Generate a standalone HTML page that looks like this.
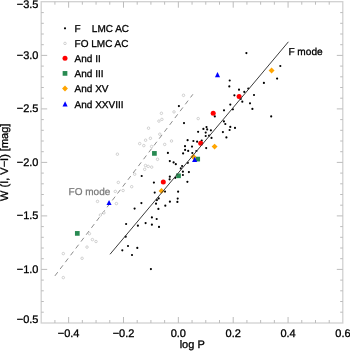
<!DOCTYPE html>
<html><head><meta charset="utf-8"><title>W(I,V-I) vs log P</title>
<style>html,body{margin:0;padding:0;background:#fff}body{width:350px;height:351px;overflow:hidden}</style></head>
<body>
<svg width="350" height="351" viewBox="0 0 350 351" style="display:block">
<rect width="350" height="351" fill="#fff"/>
<g stroke="#bcbcbc" stroke-width="1" fill="none">
<rect x="41.2" y="1.7" width="301.60" height="321.30" stroke="#cfcfcf" stroke-width="1.25"/>
<path d="M54.91 323.0v-3M54.91 1.7v3"/>
<path d="M68.63 323.0v-6M68.63 1.7v6"/>
<path d="M82.34 323.0v-3M82.34 1.7v3"/>
<path d="M96.06 323.0v-3M96.06 1.7v3"/>
<path d="M109.77 323.0v-3M109.77 1.7v3"/>
<path d="M123.49 323.0v-6M123.49 1.7v6"/>
<path d="M137.20 323.0v-3M137.20 1.7v3"/>
<path d="M150.92 323.0v-3M150.92 1.7v3"/>
<path d="M164.63 323.0v-3M164.63 1.7v3"/>
<path d="M178.35 323.0v-6M178.35 1.7v6"/>
<path d="M192.06 323.0v-3M192.06 1.7v3"/>
<path d="M205.78 323.0v-3M205.78 1.7v3"/>
<path d="M219.50 323.0v-3M219.50 1.7v3"/>
<path d="M233.21 323.0v-6M233.21 1.7v6"/>
<path d="M246.93 323.0v-3M246.93 1.7v3"/>
<path d="M260.64 323.0v-3M260.64 1.7v3"/>
<path d="M274.36 323.0v-3M274.36 1.7v3"/>
<path d="M288.07 323.0v-6M288.07 1.7v6"/>
<path d="M301.78 323.0v-3M301.78 1.7v3"/>
<path d="M315.50 323.0v-3M315.50 1.7v3"/>
<path d="M329.22 323.0v-3M329.22 1.7v3"/>
<path d="M41.2 12.60h2.6M342.8 12.60h-2.6"/>
<path d="M41.2 23.30h2.6M342.8 23.30h-2.6"/>
<path d="M41.2 34.00h2.6M342.8 34.00h-2.6"/>
<path d="M41.2 44.70h2.6M342.8 44.70h-2.6"/>
<path d="M41.2 55.40h6M342.8 55.40h-6"/>
<path d="M41.2 66.10h2.6M342.8 66.10h-2.6"/>
<path d="M41.2 76.80h2.6M342.8 76.80h-2.6"/>
<path d="M41.2 87.50h2.6M342.8 87.50h-2.6"/>
<path d="M41.2 98.20h2.6M342.8 98.20h-2.6"/>
<path d="M41.2 108.90h6M342.8 108.90h-6"/>
<path d="M41.2 119.60h2.6M342.8 119.60h-2.6"/>
<path d="M41.2 130.30h2.6M342.8 130.30h-2.6"/>
<path d="M41.2 141.00h2.6M342.8 141.00h-2.6"/>
<path d="M41.2 151.70h2.6M342.8 151.70h-2.6"/>
<path d="M41.2 162.40h6M342.8 162.40h-6"/>
<path d="M41.2 173.10h2.6M342.8 173.10h-2.6"/>
<path d="M41.2 183.80h2.6M342.8 183.80h-2.6"/>
<path d="M41.2 194.50h2.6M342.8 194.50h-2.6"/>
<path d="M41.2 205.20h2.6M342.8 205.20h-2.6"/>
<path d="M41.2 215.90h6M342.8 215.90h-6"/>
<path d="M41.2 226.60h2.6M342.8 226.60h-2.6"/>
<path d="M41.2 237.30h2.6M342.8 237.30h-2.6"/>
<path d="M41.2 248.00h2.6M342.8 248.00h-2.6"/>
<path d="M41.2 258.70h2.6M342.8 258.70h-2.6"/>
<path d="M41.2 269.40h6M342.8 269.40h-6"/>
<path d="M41.2 280.10h2.6M342.8 280.10h-2.6"/>
<path d="M41.2 290.80h2.6M342.8 290.80h-2.6"/>
<path d="M41.2 301.50h2.6M342.8 301.50h-2.6"/>
<path d="M41.2 312.20h2.6M342.8 312.20h-2.6"/>
</g>
<g font-family="'Liberation Sans', Arial, Helvetica, sans-serif" font-size="11" fill="#000" stroke="#000" stroke-width="0.3" text-rendering="geometricPrecision">
<text x="68.63" y="336.9" text-anchor="middle">−0.4</text>
<text x="123.49" y="336.9" text-anchor="middle">−0.2</text>
<text x="178.35" y="336.9" text-anchor="middle">0.0</text>
<text x="233.21" y="336.9" text-anchor="middle">0.2</text>
<text x="288.07" y="336.9" text-anchor="middle">0.4</text>
<text x="342.93" y="336.9" text-anchor="middle">0.6</text>
<text x="38.45" y="7.80" text-anchor="end">−3.5</text>
<text x="38.45" y="58.80" text-anchor="end">−3.0</text>
<text x="38.45" y="112.30" text-anchor="end">−2.5</text>
<text x="38.45" y="165.80" text-anchor="end">−2.0</text>
<text x="38.45" y="219.30" text-anchor="end">−1.5</text>
<text x="38.45" y="272.80" text-anchor="end">−1.0</text>
<text x="38.45" y="322.90" text-anchor="end">−0.5</text>
<text x="192.2" y="348.3" text-anchor="middle">log P</text>
<text transform="translate(8,162.3) rotate(-90)" text-anchor="middle">W (I, V−I) [mag]</text>
</g>
<path d="M54.9 275.9L192.9 94.3" stroke="#8c8c8c" stroke-width="1.0" stroke-dasharray="4.7 3.92" fill="none"/>
<g fill="#fff" stroke="#b2b2b2" stroke-width="0.58">
<circle cx="63.3" cy="253.6" r="1.25"/>
<circle cx="63.3" cy="277.6" r="1.25"/>
<circle cx="82.1" cy="258.3" r="1.25"/>
<circle cx="87.0" cy="247.1" r="1.25"/>
<circle cx="89.4" cy="233.7" r="1.25"/>
<circle cx="92.4" cy="239.6" r="1.25"/>
<circle cx="96.0" cy="241.5" r="1.25"/>
<circle cx="97.5" cy="201.4" r="1.25"/>
<circle cx="103.9" cy="212.9" r="1.25"/>
<circle cx="100.4" cy="215.0" r="1.25"/>
<circle cx="118.3" cy="182.4" r="1.25"/>
<circle cx="115.3" cy="191.4" r="1.25"/>
<circle cx="123.1" cy="190.5" r="1.25"/>
<circle cx="131.7" cy="186.7" r="1.25"/>
<circle cx="134.7" cy="174.2" r="1.25"/>
<circle cx="116.4" cy="203.6" r="1.25"/>
<circle cx="117.4" cy="154.2" r="1.25"/>
<circle cx="148.5" cy="128.2" r="1.25"/>
<circle cx="158.9" cy="121.1" r="1.25"/>
<circle cx="161.9" cy="119.4" r="1.25"/>
<circle cx="159.8" cy="134.2" r="1.25"/>
<circle cx="150.4" cy="138.3" r="1.25"/>
<circle cx="145.6" cy="140.2" r="1.25"/>
<circle cx="139.7" cy="143.6" r="1.25"/>
<circle cx="143.8" cy="145.6" r="1.25"/>
<circle cx="151.6" cy="146.5" r="1.25"/>
<circle cx="164.7" cy="144.4" r="1.25"/>
<circle cx="171.5" cy="141.0" r="1.25"/>
<circle cx="157.5" cy="159.3" r="1.25"/>
<circle cx="145.5" cy="165.5" r="1.25"/>
<circle cx="148.2" cy="166.4" r="1.25"/>
<circle cx="151.7" cy="167.1" r="1.25"/>
<circle cx="144.7" cy="169.3" r="1.25"/>
<circle cx="183.5" cy="95.3" r="1.25"/>
<circle cx="174.0" cy="111.9" r="1.25"/>
<circle cx="161.4" cy="113.3" r="1.25"/>
<circle cx="198.2" cy="118.6" r="1.25"/>
</g>
<g fill="#000">
<circle cx="141.7" cy="176.0" r="1.08"/>
<circle cx="141.4" cy="203.1" r="1.08"/>
<circle cx="134.6" cy="208.6" r="1.08"/>
<circle cx="126.1" cy="224.0" r="1.08"/>
<circle cx="137.9" cy="225.7" r="1.08"/>
<circle cx="145.6" cy="223.1" r="1.08"/>
<circle cx="125.7" cy="236.7" r="1.08"/>
<circle cx="128.0" cy="246.0" r="1.08"/>
<circle cx="122.3" cy="250.3" r="1.08"/>
<circle cx="137.3" cy="247.9" r="1.08"/>
<circle cx="132.0" cy="255.0" r="1.08"/>
<circle cx="150.9" cy="269.1" r="1.08"/>
<circle cx="154.7" cy="192.6" r="1.08"/>
<circle cx="165.0" cy="191.6" r="1.08"/>
<circle cx="178.1" cy="191.7" r="1.08"/>
<circle cx="158.7" cy="198.4" r="1.08"/>
<circle cx="156.9" cy="200.1" r="1.08"/>
<circle cx="177.7" cy="198.6" r="1.08"/>
<circle cx="156.0" cy="203.7" r="1.08"/>
<circle cx="169.9" cy="201.7" r="1.08"/>
<circle cx="177.4" cy="201.9" r="1.08"/>
<circle cx="165.3" cy="205.7" r="1.08"/>
<circle cx="158.4" cy="208.9" r="1.08"/>
<circle cx="151.9" cy="217.4" r="1.08"/>
<circle cx="156.7" cy="219.0" r="1.08"/>
<circle cx="151.9" cy="224.7" r="1.08"/>
<circle cx="159.0" cy="226.9" r="1.08"/>
<circle cx="187.6" cy="140.2" r="1.08"/>
<circle cx="185.0" cy="146.2" r="1.08"/>
<circle cx="185.1" cy="149.9" r="1.08"/>
<circle cx="188.2" cy="150.9" r="1.08"/>
<circle cx="183.1" cy="153.4" r="1.08"/>
<circle cx="167.9" cy="152.9" r="1.08"/>
<circle cx="169.8" cy="161.1" r="1.08"/>
<circle cx="173.6" cy="162.4" r="1.08"/>
<circle cx="175.8" cy="164.2" r="1.08"/>
<circle cx="187.8" cy="162.8" r="1.08"/>
<circle cx="182.1" cy="166.0" r="1.08"/>
<circle cx="180.8" cy="168.4" r="1.08"/>
<circle cx="182.9" cy="171.7" r="1.08"/>
<circle cx="188.9" cy="172.1" r="1.08"/>
<circle cx="182.9" cy="175.0" r="1.08"/>
<circle cx="169.8" cy="176.7" r="1.08"/>
<circle cx="169.6" cy="179.3" r="1.08"/>
<circle cx="175.2" cy="177.8" r="1.08"/>
<circle cx="153.9" cy="182.6" r="1.08"/>
<circle cx="187.4" cy="181.8" r="1.08"/>
<circle cx="192.3" cy="153.0" r="1.08"/>
<circle cx="196.4" cy="151.0" r="1.08"/>
<circle cx="214.8" cy="116.4" r="1.08"/>
<circle cx="184.0" cy="123.1" r="1.08"/>
<circle cx="206.5" cy="127.1" r="1.08"/>
<circle cx="203.4" cy="128.9" r="1.08"/>
<circle cx="207.2" cy="129.4" r="1.08"/>
<circle cx="210.9" cy="130.3" r="1.08"/>
<circle cx="198.1" cy="131.8" r="1.08"/>
<circle cx="205.7" cy="132.6" r="1.08"/>
<circle cx="205.7" cy="136.0" r="1.08"/>
<circle cx="209.1" cy="135.6" r="1.08"/>
<circle cx="211.5" cy="137.9" r="1.08"/>
<circle cx="193.4" cy="141.0" r="1.08"/>
<circle cx="197.1" cy="141.7" r="1.08"/>
<circle cx="201.7" cy="140.6" r="1.08"/>
<circle cx="192.0" cy="146.6" r="1.08"/>
<circle cx="206.2" cy="148.1" r="1.08"/>
<circle cx="229.3" cy="86.4" r="1.08"/>
<circle cx="239.0" cy="89.7" r="1.08"/>
<circle cx="248.3" cy="88.5" r="1.08"/>
<circle cx="244.3" cy="91.9" r="1.08"/>
<circle cx="254.0" cy="95.0" r="1.08"/>
<circle cx="234.4" cy="95.3" r="1.08"/>
<circle cx="240.7" cy="98.9" r="1.08"/>
<circle cx="242.3" cy="101.7" r="1.08"/>
<circle cx="250.0" cy="103.3" r="1.08"/>
<circle cx="230.3" cy="104.6" r="1.08"/>
<circle cx="252.4" cy="108.9" r="1.08"/>
<circle cx="232.9" cy="109.3" r="1.08"/>
<circle cx="224.0" cy="110.3" r="1.08"/>
<circle cx="223.9" cy="121.4" r="1.08"/>
<circle cx="225.3" cy="124.0" r="1.08"/>
<circle cx="230.3" cy="126.9" r="1.08"/>
<circle cx="235.0" cy="127.9" r="1.08"/>
<circle cx="229.6" cy="130.0" r="1.08"/>
<circle cx="222.9" cy="132.1" r="1.08"/>
<circle cx="226.4" cy="137.4" r="1.08"/>
<circle cx="246.4" cy="53.1" r="1.08"/>
<circle cx="229.7" cy="80.5" r="1.08"/>
<circle cx="263.9" cy="82.9" r="1.08"/>
<circle cx="280.3" cy="66.0" r="1.08"/>
<circle cx="277.1" cy="78.6" r="1.08"/>
<circle cx="271.2" cy="116.4" r="1.08"/>
<circle cx="178.9" cy="106.1" r="1.08"/>
</g>
<rect x="74.95" y="231.05" width="4.7" height="4.7" fill="#288a52"/>
<rect x="152.05" y="151.05" width="4.7" height="4.7" fill="#288a52"/>
<rect x="176.15" y="173.45" width="4.7" height="4.7" fill="#288a52"/>
<rect x="195.35" y="156.75" width="4.7" height="4.7" fill="#288a52"/>
<path d="M161.5 187.95l2.95 2.95l-2.95 2.95l-2.95 -2.95z" fill="#ffa500"/>
<path d="M193.4 153.85l2.95 2.95l-2.95 2.95l-2.95 -2.95z" fill="#ffa500"/>
<path d="M214.6 143.65l2.95 2.95l-2.95 2.95l-2.95 -2.95z" fill="#ffa500"/>
<path d="M271.6 67.50l2.95 2.95l-2.95 2.95l-2.95 -2.95z" fill="#ffa500"/>
<path d="M109.05 199.95l2.55 5.1l-5.1 0z" fill="#0000ff"/>
<path d="M194.65 156.80l2.55 5.1l-5.1 0z" fill="#0000ff"/>
<path d="M217.50 72.10l2.55 5.1l-5.1 0z" fill="#0000ff"/>
<circle cx="163.3" cy="182.1" r="2.5" fill="#ff0000"/>
<circle cx="200.7" cy="143.3" r="2.5" fill="#ff0000"/>
<circle cx="213.2" cy="113.3" r="2.5" fill="#ff0000"/>
<circle cx="239.1" cy="96.5" r="2.5" fill="#ff0000"/>
<path d="M110.0 254.3L288.4 41.8" stroke="#3c3c3c" stroke-width="1" fill="none"/>
<g font-family="'Liberation Sans', Arial, Helvetica, sans-serif" font-size="10" fill="#000" stroke="#000" stroke-width="0.3" text-rendering="geometricPrecision">
<text x="74.6" y="31.8" xml:space="preserve" style="white-space:pre">F    LMC AC</text>
<text x="74.6" y="47.1" xml:space="preserve" style="white-space:pre">FO LMC AC</text>
<text x="74.6" y="62.2" xml:space="preserve" style="white-space:pre">And II</text>
<text x="74.6" y="77.3" xml:space="preserve" style="white-space:pre">And III</text>
<text x="74.6" y="92.4" xml:space="preserve" style="white-space:pre">And XV</text>
<text x="74.6" y="107.5" xml:space="preserve" style="white-space:pre">And XXVIII</text>
<text x="288.4" y="55.1" font-size="10.1">F mode</text>
<text x="68.6" y="195.0" fill="#7a7a7a" stroke="#7a7a7a" stroke-width="0.25">FO mode</text>
</g>
<circle cx="65.0" cy="28.3" r="1.08" fill="#000"/>
<circle cx="65.0" cy="43.4" r="1.25" fill="#fff" stroke="#b2b2b2" stroke-width="0.58"/>
<circle cx="65.0" cy="58.3" r="2.5" fill="#ff0000"/>
<rect x="62.65" y="71.05" width="4.7" height="4.7" fill="#288a52"/>
<path d="M65.0 85.55l2.95 2.95l-2.95 2.95l-2.95 -2.95z" fill="#ffa500"/>
<path d="M65.10 101.30l2.55 5.1l-5.1 0z" fill="#0000ff"/>
</svg>
</body></html>
